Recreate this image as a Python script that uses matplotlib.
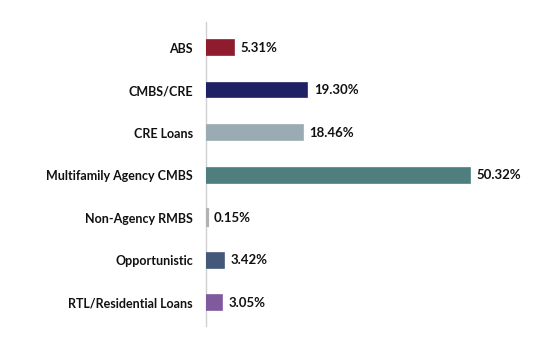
import matplotlib
matplotlib.use("Agg")
import matplotlib.pyplot as plt

# allocation by sector, percent
categories = ["ABS", "CMBS/CRE", "CRE Loans", "Multifamily Agency CMBS",
              "Non-Agency RMBS", "Opportunistic", "RTL/Residential Loans"]
values = [5.31, 19.30, 18.46, 50.32, 0.15, 3.42, 3.05]
colors = ["#8E1B2E", "#1E2163", "#9AABB4", "#4E7E7E", "#B3B3B3", "#44597A", "#7F5A9D"]

plt.rcParams["font.family"] = ["Lato", "DejaVu Sans"]

fig = plt.figure(figsize=(5.57, 3.6), dpi=100)
ax = fig.add_axes([206 / 557, 34 / 360, 330 / 557, 304 / 360])

pos = range(len(categories))
# tiny values get a thicker edge so they stay visible, like the original
lw = [3.0 if v < 1 else 1.2 for v in values]
ax.barh(pos, values, height=0.35, color=colors, edgecolor=colors,
        linewidth=lw, zorder=3)
for y, v in zip(pos, values):
    ax.text(v + 1.3, y, f"{v:.2f}%", va="center", ha="left",
            fontsize=9.5, fontweight="bold", color="#111111")

ax.set_yticks(list(pos))
ax.set_yticklabels(categories, fontsize=9.0, fontweight="bold", color="#111111")
ax.tick_params(axis="y", length=0, pad=9.5)
ax.set_xticks([])
ax.set_xlim(0, 63)
ax.set_ylim(6.55, -0.6)

for s in ["top", "right", "bottom"]:
    ax.spines[s].set_visible(False)
ax.spines["left"].set_color("#D0D0D0")
ax.spines["left"].set_linewidth(1)

fig.savefig("out.png", dpi=100)
